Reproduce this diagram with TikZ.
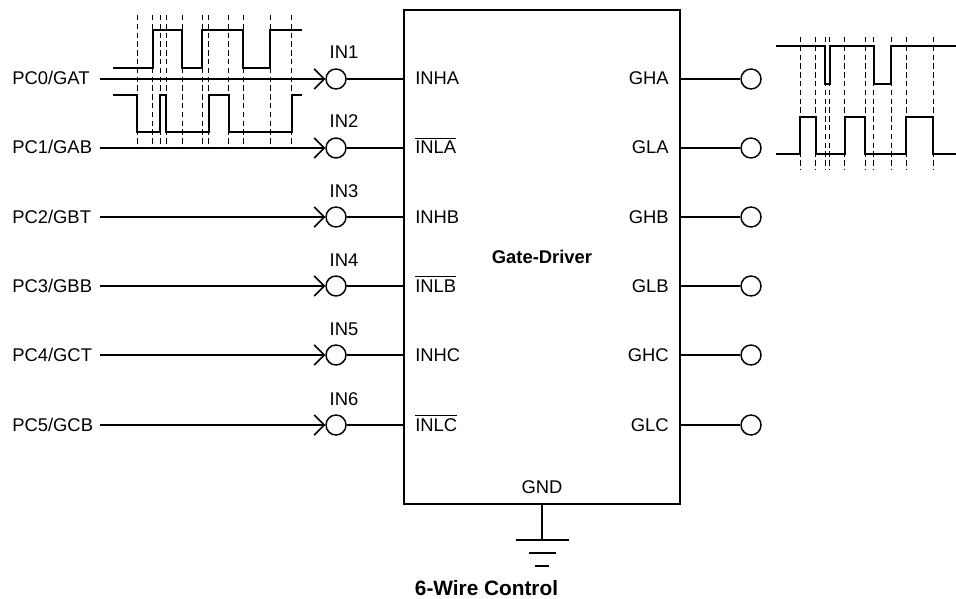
\documentclass[tikz,border=0pt]{standalone}
\usepackage{amsmath}
\usepackage{fontspec}
\setmainfont{Liberation Sans}
\usetikzlibrary{arrows.meta}
\tikzset{
    wire/.style={line width=1.1pt},
    wave/.style={line width=1.4pt},
    guide/.style={line width=0.6pt, dash pattern=on 4pt off 2.6pt},
    pad/.style={circle, draw, line width=1.1pt, inner sep=0pt, minimum size=15pt},
    sig/.style={inner sep=0pt, font=\fontsize{13.8}{16}\selectfont},
    chip/.style={draw, line width=1.1pt, minimum width=207pt, minimum height=370.5pt, inner sep=0pt}
}
\begin{document}
\begin{tikzpicture}[x=0.75pt, y=-0.75pt, >={Straight Barb[length=7.5pt, width=15pt]}]
                \useasboundingbox (0,0) rectangle (956,599);
                \node[chip, font=\fontsize{13.8}{16}\selectfont\bfseries] (drv) at (542,257) {Gate-Driver};
                \foreach \y/\n/\port/\pin/\out in {
                    79/1/PC0\slash GAT/INHA/GHA,
                    148/2/PC1\slash GAB/$\overline{\mbox{INLA}}$/GLA,
                    217/3/PC2\slash GBT/INHB/GHB,
                    286/4/PC3\slash GBB/$\overline{\mbox{INLB}}$/GLB,
                    355/5/PC4\slash GCT/INHC/GHC,
                    425/6/PC5\slash GCB/$\overline{\mbox{INLC}}$/GLC}{
                    \node[sig, anchor=base west] (port\n) at (12,\y+6) {\port};
                    \node[pad] (in\n) at (336,\y) {};
                    \node[sig, anchor=base] (inl\n) at (344,\y-20) {IN\n};
                    \node[sig, anchor=base west] (pin\n) at (415,\y+6) {\pin};
                    \node[sig, anchor=base east] (out\n) at (669,\y+6) {\out};
                    \node[pad] (gate\n) at (751,\y) {};
                    \coordinate (inA\n) at (drv.west |- in\n);
                    \coordinate (outA\n) at (drv.east |- gate\n);
                    \draw[wire, ->] (100,\y) coordinate (st\n) -- (in\n.west);
                    \draw[wire] (in\n.east) -- (inA\n);
                    \draw[wire] (outA\n) -- (gate\n.west);
                }
                % ground
                \node[sig, anchor=base] (gnd) at (542,493) {GND};
                \coordinate (g0) at (drv.south -| gnd);
                \coordinate (g1) at (542,540);
                \draw[wire] (g0) -- (g1);
                \draw[wire] (516,540) -- (569,540);
                \draw[wire] (529,553) -- (556,553);
                \draw[wire] (535,566) -- (549,566);
                \node[sig, anchor=base, font=\fontsize{15.6}{18}\selectfont\bfseries] (title) at (486.5,595) {6-Wire Control};
                % input waves
                \foreach \x in {137.3,152.7,160.3,166.3,182,202,208.7,228.7,243.3,270,291.7}
                    \draw[guide] (\x,15) -- (\x,148);
                \draw[wave] (113.3,67.7) -- (152.7,67.7) -- (152.7,30) -- (182,30) -- (182,67.7) -- (202,67.7) -- (202,30) -- (243.3,30) -- (243.3,67.7) -- (270,67.7) -- (270,30) -- (301.7,30);
                \draw[wave] (113.3,94.7) -- (137.3,94.7) -- (137.3,132.3) -- (160.3,132.3) -- (160.3,94.7) -- (166.3,94.7) -- (166.3,132.3) -- (208.7,132.3) -- (208.7,94.7) -- (228.7,94.7) -- (228.7,132.3) -- (291.7,132.3) -- (291.7,94.7) -- (301.7,94.7);
                % output waves
                \foreach \x in {800,815.7,825.3,829.7,844.7,865,873.7,891.3,906,933}
                    \draw[guide] (\x,37) -- (\x,170);
                \draw[wave] (776,46) -- (825.3,46) -- (825.3,83.7) -- (829.7,83.7) -- (829.7,46) -- (873.7,46) -- (873.7,83.7) -- (891.3,83.7) -- (891.3,46) -- (956,46);
                \draw[wave] (776,154.3) -- (800,154.3) -- (800,116.7) -- (815.7,116.7) -- (815.7,154.3) -- (844.7,154.3) -- (844.7,116.7) -- (865,116.7) -- (865,154.3) -- (906,154.3) -- (906,116.7) -- (933,116.7) -- (933,154.3) -- (956,154.3);
            \end{tikzpicture}
\end{document}
